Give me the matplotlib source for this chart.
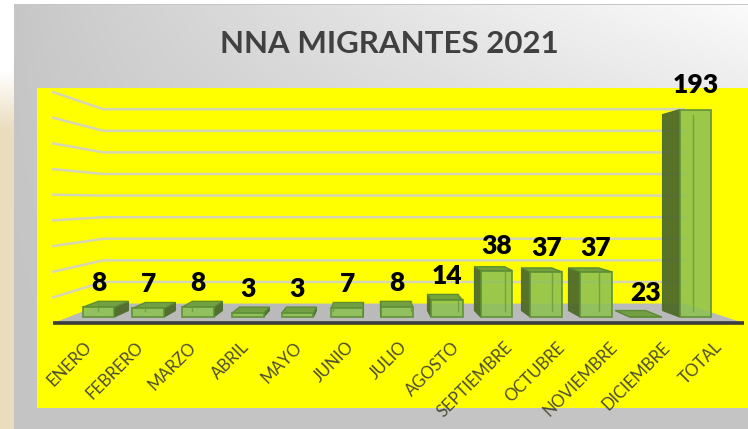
import numpy as np
import matplotlib
matplotlib.use("Agg")
import matplotlib.pyplot as plt
from matplotlib.patches import Polygon

# data
meses = ["ENERO", "FEBRERO", "MARZO", "ABRIL", "MAYO", "JUNIO", "JULIO",
         "AGOSTO", "SEPTIEMBRE", "OCTUBRE", "NOVIEMBRE", "DICIEMBRE", "TOTAL"]
valores = [8, 7, 8, 3, 3, 7, 8, 14, 38, 37, 37, 23, 193]
# bar heights as they are drawn in the chart (diciembre flat, total shorter)
alturas = [8, 7, 8, 3, 3, 7, 8, 14, 38, 37, 37, 0, 170]
grid_vals = [20, 40, 60, 80, 100, 120, 140, 160, 180]

W, H = 748, 429
plt.rcParams["font.family"] = ["Lato", "DejaVu Sans"]

fig = plt.figure(figsize=(W / 100, H / 100), dpi=100)

# background panel (gradient) + beige strip on the left
bg = fig.add_axes([0, 0, 1, 1])
bg.set_xlim(0, W)
bg.set_ylim(H, 0)
bg.axis("off")
yy, xx = np.mgrid[0:H, 0:W]
g = 196 + 56 * (xx / W) ** 0.8 * (1 - yy / H) ** 1.3
img = np.dstack([g, g, g]) / 255.0
beige = np.array([233, 221, 190]) / 255.0
t = np.clip((yy[:, :14] - 70) / 60.0, 0, 1)[..., None]
img[:, :14] = (1 - t) * 1.0 + t * beige
img[:4, :] = 1.0
img[4, 14:] = 0.78
bg.imshow(img, extent=(0, W, H, 0), interpolation="bilinear")

fig.text(389 / W, 1 - 44 / H, "NNA MIGRANTES 2021", ha="center", va="center",
         fontsize=22.5, fontweight="bold", color="#404040")

# plot area
ax = fig.add_axes([37 / W, (H - 408) / H, (W - 37) / W, (408 - 88) / H])
ax.set_facecolor("#ffff00")
for s in ax.spines.values():
    s.set_visible(False)
ax.set_xticks([])
ax.set_yticks([])

X0, DX, Y0, SY = 98.5, 49.75, 317, 1.22
ax.set_xlim((37 - X0) / DX, (W - X0) / DX)
ax.set_ylim((Y0 - 408) / SY, (Y0 - 88) / SY)

# vanishing point for the 3d look
iv = (369 - X0) / DX
vv = (Y0 - 200) / SY


def proj(i, v, k):
    return (i + k * (iv - i), v + k * (vv - v))


KF0, KF1, KB = -0.051, 0.115, 0.055
i0, i1 = -0.6, 12.6

# gridlines (back wall + left wall)
for v in grid_vals:
    pts = [proj(i0, v, KF0), proj(i0, v, KF1), proj(i1, v, KF1)]
    ax.plot([p[0] for p in pts], [p[1] for p in pts], color="#d6d6b6",
            lw=1.8, zorder=1)

# floor
floor = [proj(i0, 0, KF0), proj(i1, 0, KF0), proj(i1, 0, KF1), proj(i0, 0, KF1)]
ax.add_patch(Polygon(floor, closed=True, facecolor="#bababa", edgecolor="none", zorder=2))
fa, fb = proj(i0, 0, KF0), proj(i1, 0, KF0)
ax.plot([fa[0], fb[0]], [fa[1], fb[1]], color="#3c3c3c", lw=2.6, zorder=3,
        solid_capstyle="butt")

# bars
x = np.arange(len(meses))
BW = 0.64
for i, h in zip(x, alturas):
    l, r = i - BW / 2, i + BW / 2
    if i > iv:
        side = [(l, 0), (l, h), proj(l, h, KB), proj(l, 0, KB)]
        back = [proj(r, 0, KB), proj(r, h, KB)]
    else:
        side = [(r, 0), (r, h), proj(r, h, KB), proj(r, 0, KB)]
        back = [proj(l, 0, KB), proj(l, h, KB)]
    ax.add_patch(Polygon(side, closed=True, facecolor="#4f6a2b",
                         edgecolor="#4d6e2c", lw=0.8, alpha=0.95, zorder=4))
    if h < vv:
        top = [(l, h), (r, h), proj(r, h, KB), proj(l, h, KB)]
        ax.add_patch(Polygon(top, closed=True, facecolor="#6e9e3e",
                             edgecolor="#5a8a33", lw=1.0, alpha=0.95, zorder=4))
    ax.plot([back[0][0], back[1][0]], [back[0][1], back[1][1]],
            color="#6a9a3c", lw=1.0, alpha=0.8, zorder=6)

ax.bar(x, alturas, width=BW, color="#8dc153", edgecolor="#5e8f35",
       lw=1.3, alpha=0.88, zorder=5)

# value labels
for i, h, val in zip(x, alturas, valores):
    ax.annotate(str(val), (i, h), xytext=(0, 17.5), textcoords="offset points",
                ha="center", va="center", fontsize=19, fontweight="heavy",
                color="black", zorder=10)

# category labels
KL = -0.057
yl = (Y0 - 339) / SY
for i, m in zip(x, meses):
    xl = proj(i, 0, KL)[0]
    ax.text(xl, yl, m, rotation=45, ha="right", va="top", rotation_mode="anchor",
            fontsize=12, color="#4c4c34", zorder=10)

fig.savefig("out.png", dpi=100)
